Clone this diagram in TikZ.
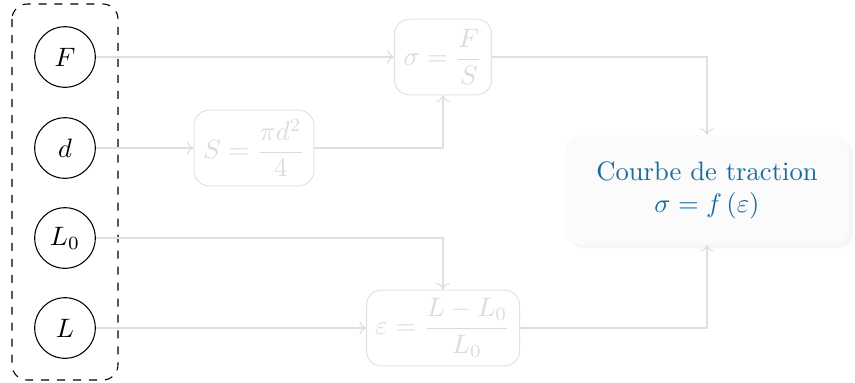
\documentclass[tikz,border=0pt]{standalone}
\usepackage{amsmath}
\usetikzlibrary{arrows.meta}
\usetikzlibrary{shadows}

\definecolor{courbeblue}{RGB}{24,108,158}

\begin{document}
\begin{tikzpicture}[x=0.0132cm,y=-0.0132cm,
		var/.style={circle, draw, minimum size=0.8cm, inner sep=0pt},
		calc/.style={rectangle, rounded corners=2mm, draw=gray!22, text=gray!28, minimum height=1cm, inner sep=2pt},
		res/.style={rectangle, rounded corners=2mm, fill=gray!3, text=courbeblue, minimum width=3.75cm, minimum height=1.44cm, align=center,
			drop shadow={shadow xshift=0.5mm, shadow yshift=-0.5mm, fill=gray!7, opacity=1}},
		fil/.style={draw=gray!25, -To}]
		\useasboundingbox (0,0) rectangle (855,382);
		% entrees
		\node[var] (F) at (65,57) {$F$};
		\node[var] (d) at (65,148) {$d$};
		\node[var] (L0) at (65,238) {$L_0$};
		\node[var] (L) at (65,328) {$L$};
		\draw[dashed, rounded corners=2mm] (12,4) rectangle (118,380);
		% calculs
		\node[calc, minimum width=1.28cm] (sigma) at (443,57) {$\sigma = \dfrac{F}{S}$};
		\node[calc, minimum width=1.58cm] (S) at (254,148) {$S = \dfrac{\pi d^2}{4}$};
		\node[calc, minimum width=2.02cm] (eps) at (443,328) {$\varepsilon = \dfrac{L - L_0}{L_0}$};
		\node[res] (courbe) at (707,190) {Courbe de traction\\ $\sigma = f\left(\varepsilon\right)$};
		% liaisons
		\draw[fil] (F) -- (sigma);
		\draw[fil] (d) -- (S);
		\draw[fil] (S) -| (sigma);
		\draw[fil] (L0) -| (eps);
		\draw[fil] (L) -- (eps);
		\draw[fil] (sigma) -| (courbe);
		\draw[fil] (eps) -| (courbe);
	\end{tikzpicture}
\end{document}
